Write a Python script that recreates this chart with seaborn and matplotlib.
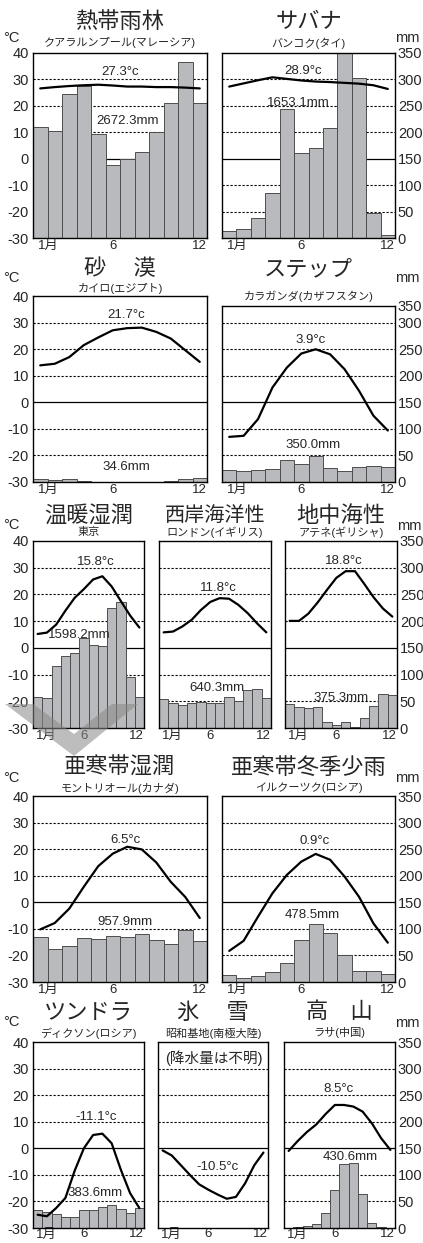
import numpy as np
import matplotlib
matplotlib.use("Agg")
import matplotlib.pyplot as plt
import seaborn as sns
from matplotlib.patches import Polygon

# DONNEES : temperature (°C) et precipitations (mm) par mois
months = np.arange(1, 13)

# 熱帯雨林 クアラルンプール
kuala_temp = [26.6, 27.1, 27.5, 27.8, 28.0, 27.7, 27.3, 27.3, 27.1, 27.1, 26.9, 26.6]
kuala_prec = [210, 203, 273, 287, 197, 139, 149, 163, 200, 256, 333, 256]
# サバナ バンコク
bangkok_temp = [27.3, 28.5, 29.7, 30.8, 30.2, 29.6, 29.2, 29.0, 28.7, 28.4, 27.8, 26.4]
bangkok_prec = [14, 17, 38, 86, 245, 161, 170, 208, 360, 302, 48, 6]
# 砂漠 カイロ
cairo_temp = [13.9, 14.5, 17.0, 21.5, 24.4, 27.1, 27.9, 28.1, 26.5, 24.0, 19.6, 15.2]
cairo_prec = [6.5, 4.5, 6.0, 1.0, 0.5, 0.2, 0.1, 0.1, 0.3, 1.5, 5.5, 8.4]
# ステップ カラガンダ
karaganda_temp = [-13.0, -12.6, -6.3, 5.6, 13.1, 18.4, 20.0, 18.1, 12.5, 4.4, -5.0, -10.6]
karaganda_prec = [23.5, 21, 23.5, 24, 41, 33.5, 49.5, 26.5, 21, 28.5, 29.5, 27.5]
# 温暖湿潤 東京
tokyo_temp = [5.2, 5.7, 8.7, 13.9, 18.7, 22.0, 25.6, 26.8, 23.0, 17.5, 12.1, 7.6]
tokyo_prec = [58, 56, 116, 134, 140, 168, 156, 154, 225, 235, 96, 58]
# 西岸海洋性 ロンドン
london_temp = [5.8, 6.1, 8.0, 10.5, 14.2, 17.2, 18.6, 18.4, 16.1, 13.0, 9.2, 5.8]
london_prec = [55, 47.5, 42.5, 46, 49, 46.5, 46.5, 58.5, 50.5, 70.5, 73, 56.5]
# 地中海性 アテネ
athens_temp = [10.1, 10.1, 12.8, 17.0, 21.7, 26.2, 28.7, 28.7, 23.9, 18.9, 14.7, 11.7]
athens_prec = [45, 39, 37.5, 40, 11.5, 5.5, 10.5, 2.5, 18.5, 41, 64, 61.5]
# 亜寒帯湿潤 モントリオール
montreal_temp = [-10.2, -7.8, -2.4, 5.8, 13.6, 18.3, 20.9, 19.9, 15.0, 7.7, 2.0, -5.9]
montreal_prec = [84, 63, 67, 82, 80, 86, 84, 90, 79, 71, 97, 77]
# 亜寒帯冬季少雨 イルクーツク
irkutsk_temp = [-18.3, -14.5, -5.4, 3.4, 10.3, 15.3, 18.2, 16.0, 9.7, 2.1, -7.9, -15.2]
irkutsk_prec = [13.5, 7.5, 10.5, 18.5, 36, 79, 109, 93, 51.5, 21.5, 20.5, 15.5]
# ツンドラ ディクソン
dikson_temp = [-25.0, -25.6, -22.5, -18.7, -8.5, 0.0, 5.0, 5.5, 1.9, -8.1, -16.9, -22.5]
dikson_prec = [34, 30, 26, 20, 21, 33, 34, 40, 43, 36, 28, 38]
# 氷雪 昭和基地 (降水量なし)
syowa_temp = [-0.8, -2.7, -6.4, -10.1, -13.6, -15.6, -17.4, -19.0, -18.3, -13.2, -6.4, -1.6]
# 高山 ラサ
lhasa_temp = [-1.0, 2.8, 6.2, 9.0, 12.9, 16.3, 16.3, 15.7, 13.8, 9.4, 3.8, -0.6]
lhasa_prec = [0.5, 1.2, 3.0, 7.5, 28.0, 71.0, 121.0, 123.0, 64.0, 8.5, 1.5, 0.4]

sns.set_theme(style="white")
plt.rcParams["font.family"] = ["Liberation Sans", "Noto Sans CJK JP"]
plt.rcParams["axes.unicode_minus"] = False

W, H = 423, 1243
fig = plt.figure(figsize=(W / 100, H / 100), dpi=100)
BAR = "#b9babd"
EDGE = "#4d4d4d"


def fx(px):
    return px / W


def fy(py):
    return 1 - py / H


def panel(box, temp, prec, title, city, t_txt, t_xy, p_txt, p_xy,
          left=False, right=False, top=40, ty=0, sy=0, tsize=16, xpad=1.5):
    '''un climogramme : barres (mm, axe droit) + courbe (°C, axe gauche)'''
    x0, y0, x1, y1 = box
    ax = fig.add_axes([fx(x0), fy(y1), (x1 - x0) / W, (y1 - y0) / H])
    ax2 = ax.twinx()
    ax.set_zorder(3)
    ax.patch.set_visible(False)
    ax2.set_ylim(0, (top + 30) * 5)
    # lignes horizontales tous les 10°C / 50 mm
    for v in range(50, 350, 50):
        if v == 150:
            ax2.axhline(v, color="black", lw=0.9, zorder=0)
        else:
            ax2.axhline(v, color="black", lw=0.8, ls=(0, (2, 1.6)), zorder=0)
    if prec is not None:
        sns.barplot(x=months, y=prec, ax=ax2, native_scale=True, width=1,
                    color=BAR, edgecolor=EDGE, linewidth=0.7, errorbar=None,
                    saturation=1, zorder=1)
    sns.lineplot(x=months, y=temp, ax=ax, color="black", lw=1.6)
    ax.set_ylim(-30, top)
    ax.set_xlim(0.5, 12.5)
    ax.set_xticks([0.85, 6, 12.5])
    ax.set_xticklabels(["1月", "6", "12"])
    lab = ax.get_xticklabels()
    lab[0].set_ha("left")
    lab[2].set_ha("right")
    ax.set_yticks(range(-30, 41, 10) if top == 40 else range(-30, 31, 10))
    ax.set_yticklabels([str(v) for v in ax.get_yticks().astype(int)])
    if top == 40:
        ax2.set_yticks(range(0, 351, 50))
        ax2.set_yticklabels([str(v) for v in range(0, 351, 50)])
    else:
        ax2.set_yticks(list(range(0, 301, 50)) + [(top + 30) * 5])
        ax2.set_yticklabels([str(v) for v in range(0, 351, 50)])
    ax.tick_params(axis="x", length=0, labelsize=9.5, pad=xpad)
    ax.tick_params(axis="y", length=0, labelsize=10.5, pad=3, labelleft=left)
    ax2.tick_params(axis="y", length=0, labelsize=10.5, pad=2, labelright=right)
    ax.set_xlabel("")
    ax.set_ylabel("")
    ax2.set_ylabel("")
    for s in ax.spines.values():
        s.set_color("black")
        s.set_linewidth(1.0)
    for s in ax2.spines.values():
        s.set_visible(False)
    if t_txt:
        ax.text(t_xy[0], t_xy[1], t_txt, ha="center", va="center", fontsize=9.5)
    if p_txt:
        ax.text(p_xy[0], p_xy[1], p_txt, ha="center", va="center", fontsize=9.5)
    cx = fx((x0 + x1) / 2)
    fig.text(cx, fy(ty), title, ha="center", va="center", fontsize=tsize,
             family="Noto Sans CJK JP")
    fig.text(cx, fy(sy), city, ha="center", va="center", fontsize=8)
    return ax


# ligne 1
panel((33, 53, 207, 238), kuala_temp, kuala_prec, "熱帯雨林", "クアラルンプール(マレーシア)",
      "27.3°c", (6.52, 32.8), "2672.3mm", (7.05, 14.3), left=True, ty=22, sy=43)
panel((222, 53, 395, 238), bangkok_temp, bangkok_prec, "サバナ", "バンコク(タイ)",
      "28.9°c", (6.1, 33.3), "1653.1mm", (5.78, 21), right=True, ty=22, sy=43)
# ligne 2
panel((33, 296, 207, 482), cairo_temp, cairo_prec, "砂　 漠", "カイロ(エジプト)",
      "21.7°c", (6.96, 32.8), "34.6mm", (6.96, -24.5), left=True, ty=269, sy=289)
panel((222, 306, 395, 482), karaganda_temp, karaganda_prec, "ステップ", "カラガンダ(カザフスタン)",
      "3.9°c", (6.63, 23.4), "350.0mm", (6.82, -15.9), right=True, top=36.3, ty=269, sy=296)
# ligne 3
panel((33, 541, 144, 728), tokyo_temp, tokyo_prec, "温暖湿潤", "東京",
      "15.8°c", (7.33, 32.3), "1598.2mm", (5.52, 5.0), left=True, ty=515, sy=532)
panel((159, 541, 271, 728), london_temp, london_prec, "西岸海洋性", "ロンドン(イギリス)",
      "11.8°c", (6.86, 22.4), "640.3mm", (6.75, -15.2), ty=515, sy=532, tsize=14.5)
panel((285, 541, 397, 728), athens_temp, athens_prec, "地中海性", "アテネ(ギリシャ)",
      "18.8°c", (6.8, 32.5), "375.3mm", (6.55, -18.7), right=True, ty=515, sy=532)
# ligne 4
panel((33, 796, 207, 982), montreal_temp, montreal_prec, "亜寒帯湿潤", "モントリオール(カナダ)",
      "6.5°c", (6.87, 23.6), "957.9mm", (6.82, -7.4), left=True, ty=767, sy=788)
panel((222, 796, 395, 982), irkutsk_temp, irkutsk_prec, "亜寒帯冬季少雨", "イルクーツク(ロシア)",
      "0.9°c", (6.94, 22.9), "478.5mm", (6.75, -4.8), right=True, ty=767, sy=788)
# ligne 5
panel((33, 1042, 144, 1228), dikson_temp, dikson_prec, "ツンドラ", "ディクソン(ロシア)",
      "-11.1°c", (7.29, 11.9), "383.6mm", (7.22, -16.9), left=True, ty=1012, sy=1033, xpad=0.3)
ax_ice = panel((158, 1042, 268, 1228), syowa_temp, None, "氷　 雪", "昭和基地(南極大陸)",
               "-10.5°c", (6.95, -6.9), None, None, ty=1012, sy=1033, xpad=0.3)
ax_ice.text(6.57, 33.8, "(降水量は不明)", ha="center", va="center", fontsize=10.5)
panel((284, 1042, 395, 1228), lhasa_temp, lhasa_prec, "高　山", "ラサ(中国)",
      "8.5°c", (6.43, 22.2), "430.6mm", (7.7, -3.1), right=True, ty=1012, sy=1033, xpad=0.3)

# unites
for py in [38, 278, 525, 778, 1022]:
    fig.text(fx(3), fy(py), "°C", ha="left", va="center", fontsize=10.5)
for px, py in [(395, 38), (395, 278), (397, 526), (395, 778), (395, 1023)]:
    fig.text(fx(px), fy(py), "mm", ha="left", va="center", fontsize=10.5)

# chevron gris
pts = [(5, 704), (33, 704), (74, 734), (112, 704), (138, 704), (74, 756)]
fig.patches.append(Polygon([(fx(a), fy(b)) for a, b in pts], closed=True,
                           transform=fig.transFigure, color="#888888", alpha=0.55,
                           lw=0, zorder=10))

fig.savefig("out.png", dpi=100)
